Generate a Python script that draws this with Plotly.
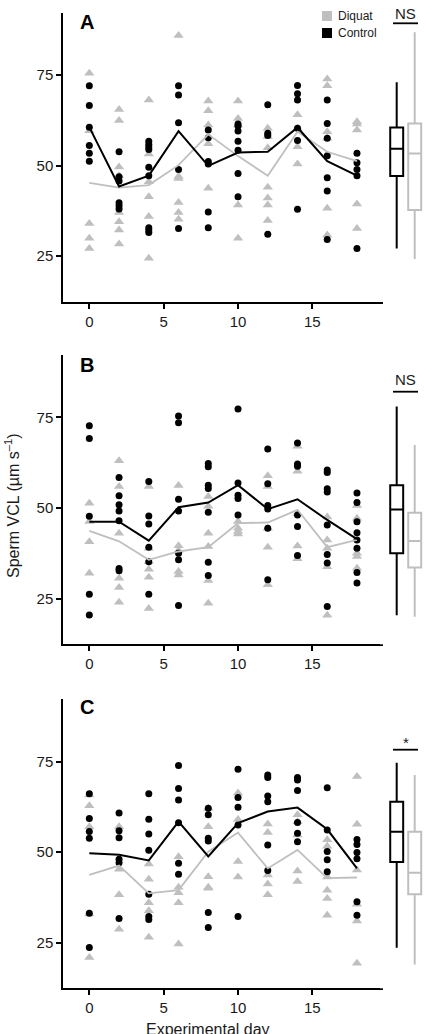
import plotly.graph_objects as go

W, H = 436, 1034
days = [0, 2, 4, 6, 8, 10, 12, 14, 16, 18]

# ---- Panel A ----
A_control = [[72.0, 66.6, 60.6, 55.5, 53.4, 51.2],
             [53.8, 46.9, 45.7, 39.7, 38.9, 38.0],
             [56.7, 55.8, 55.1, 54.4, 49.5, 47.2, 32.8, 32.2, 31.5],
             [72.0, 69.5, 61.8, 48.9, 32.6],
             [59.8, 57.7, 51.1, 50.4, 37.2, 32.8],
             [61.5, 60.9, 59.5, 56.7, 54.2, 47.8, 41.4],
             [66.8, 58.9, 58.3, 31.0],
             [72.1, 69.8, 68.1, 60.3, 56.9, 37.9],
             [68.1, 61.6, 57.5, 52.7, 46.6, 43.0, 29.6],
             [53.4, 50.8, 48.9, 47.2, 27.1]]
A_diquat = [[75.5, 59.6, 34.0, 29.9, 27.1],
            [65.5, 62.4, 49.6, 47.2, 37.0, 34.5, 32.2, 28.3],
            [68.1, 53.2, 45.5, 41.4, 35.9, 24.4],
            [85.9, 47.0, 46.4, 39.8, 37.0, 35.2],
            [67.8, 65.1, 61.2, 56.0, 43.7],
            [67.8, 63.0, 61.2, 39.1, 29.9],
            [60.3, 58.0, 54.9, 44.0, 41.0, 39.1, 34.8],
            [64.0, 60.3, 55.2, 50.4],
            [73.9, 72.0, 59.3, 57.5, 38.2, 30.8],
            [62.1, 61.5, 59.8, 39.4, 32.6]]
A_control_mean = [60.6, 44.2, 47.2, 59.5, 49.9, 53.6, 53.8, 60.5, 51.2, 47.2]
A_diquat_mean = [45.2, 43.9, 44.6, 50.1, 58.6, 52.6, 47.2, 59.3, 53.8, 51.2]
# box stats: lower whisker, q1, median, q3, upper whisker
A_box_control = [27.1, 47.1, 54.6, 60.5, 73.0]
A_box_diquat = [24.2, 37.7, 53.3, 61.6, 86.8]

# ---- Panel B ----
B_control = [[72.7, 69.2, 47.7, 26.2, 20.5],
             [58.4, 53.4, 50.9, 49.2, 46.5, 33.3, 32.7],
             [57.3, 47.8, 45.6, 39.2, 35.2, 26.2],
             [75.4, 73.5, 52.4, 49.2, 37.5, 35.7, 23.1],
             [62.3, 61.4, 56.3, 55.4, 48.8, 35.0, 31.4],
             [77.3, 56.9, 53.5, 52.6, 48.1],
             [66.3, 56.7, 50.7, 49.7, 44.4, 30.2],
             [67.9, 62.1, 61.5, 48.1, 44.9, 36.9],
             [60.5, 59.8, 55.3, 54.4, 45.3, 37.2, 34.8, 22.8],
             [54.1, 51.5, 46.2, 43.2, 41.2, 38.9, 32.2, 29.3]]
B_diquat = [[51.3, 46.3, 40.7, 32.0],
            [63.0, 55.9, 43.0, 30.6, 28.1, 24.0],
            [55.9, 38.9, 35.2, 33.1, 30.9, 22.3],
            [56.2, 39.6, 38.3, 32.5, 31.5],
            [53.2, 50.5, 43.0, 39.4, 30.0, 23.7],
            [46.3, 44.4, 43.5, 42.8],
            [58.9, 55.9, 44.4, 39.2, 28.8],
            [67.0, 60.1, 48.4, 39.5, 36.0],
            [47.5, 41.2, 38.9, 33.8, 20.4],
            [50.7, 47.2, 37.5, 36.6, 33.4]]
B_control_mean = [46.2, 46.2, 41.0, 50.2, 51.5, 56.3, 49.7, 52.4, 46.7, 41.4]
B_diquat_mean = [43.7, 40.8, 35.7, 38.0, 39.2, 45.8, 46.0, 49.5, 39.2, 41.2]
B_box_control = [20.4, 37.5, 49.6, 56.3, 78.0]
B_box_diquat = [20.0, 33.6, 40.9, 48.7, 67.4]

# ---- Panel C ----
C_control = [[66.1, 59.3, 55.7, 53.8, 33.1, 23.7],
             [60.8, 55.9, 54.0, 48.0, 47.1, 31.7],
             [66.1, 59.1, 55.0, 50.5, 38.4, 32.2, 31.4],
             [73.9, 67.6, 64.4, 58.1, 46.9, 43.9],
             [62.1, 60.3, 53.8, 53.1, 33.3, 29.2],
             [72.9, 65.1, 62.4, 57.5, 32.2],
             [71.3, 70.6, 65.5, 63.9, 52.0, 44.9],
             [70.6, 69.9, 67.0, 58.2, 55.2, 52.9],
             [67.8, 56.1, 50.2, 47.9, 44.6],
             [53.5, 52.1, 49.9, 48.2, 36.3, 32.6]]
C_diquat = [[65.8, 62.8, 57.0, 32.9, 20.9],
            [57.0, 45.3, 38.2, 28.7],
            [46.7, 42.5, 36.0, 33.8, 26.5],
            [48.7, 40.3, 38.8, 36.0, 24.6],
            [62.1, 57.0, 43.2, 40.3, 40.0],
            [66.3, 59.0, 47.4, 43.1],
            [57.8, 55.4, 43.7, 41.2, 38.2],
            [60.3, 58.4, 54.7, 44.8, 41.9],
            [53.4, 51.6, 43.1, 39.5, 37.2, 32.6],
            [70.9, 57.7, 45.1, 35.6, 31.0, 19.3]]
C_control_mean = [49.7, 49.3, 47.7, 58.4, 48.8, 58.0, 61.2, 62.3, 56.3, 45.5]
C_diquat_mean = [43.7, 46.3, 38.6, 39.5, 50.1, 55.4, 45.5, 50.6, 42.8, 43.0]
C_box_control = [23.6, 47.3, 55.6, 63.9, 74.7]
C_box_diquat = [19.0, 38.4, 44.3, 55.6, 71.3]

panel_letters = ["A", "B", "C"]
sig_labels = ["NS", "NS", "*"]
groups = ["Control", "Diquat"]
x_ticks = [0, 5, 10, 15]
y_ticks = [25, 50, 75]

BLACK = "#000000"
GREY = "#bfbfbf"
TXT = "#1a1a1a"
FONT = "Liberation Sans, Arial, sans-serif"

# pixel layout (top, bottom of each plot area)
panel_px = [(12.7, 301.7), (355.0, 644.3), (699.3, 988.3)]
x_left_px, x_right_px = 63.3, 383.3
box_dom_px = (380.0, 436.0)
sig_text_px = [14.0, 379.3, 742.5]
sig_line_px = [23.3, 391.7, 749.7]
letter_px = [21.5, 365.5, 706.5]


def py(p):
    return 1 - p / H


def px(p):
    return p / W


fig = go.Figure()
panels = [
    (A_control, A_diquat, A_control_mean, A_diquat_mean, A_box_control, A_box_diquat),
    (B_control, B_diquat, B_control_mean, B_diquat_mean, B_box_control, B_box_diquat),
    (C_control, C_diquat, C_control_mean, C_diquat_mean, C_box_control, C_box_diquat),
]

shapes = []
annotations = []
for i, (ctl, diq, ctl_m, diq_m, bc, bd) in enumerate(panels):
    xa = "x" if i == 0 else f"x{i + 1}"
    ya = "y" if i == 0 else f"y{i + 1}"
    xb = f"x{i + 4}"

    dx, dy = [], []
    for d, vals in zip(days, diq):
        dx += [d] * len(vals)
        dy += vals
    cx, cy = [], []
    for d, vals in zip(days, ctl):
        cx += [d] * len(vals)
        cy += vals

    fig.add_trace(go.Scatter(x=dx, y=dy, mode="markers", xaxis=xa, yaxis=ya,
                             marker=dict(symbol="triangle-up", size=9, color=GREY),
                             showlegend=False))
    fig.add_trace(go.Scatter(x=cx, y=cy, mode="markers", xaxis=xa, yaxis=ya,
                             marker=dict(symbol="circle", size=7, color=BLACK),
                             showlegend=False))
    fig.add_trace(go.Scatter(x=days, y=diq_m, mode="lines", xaxis=xa, yaxis=ya,
                             line=dict(color=GREY, width=1.8), showlegend=False))
    fig.add_trace(go.Scatter(x=days, y=ctl_m, mode="lines", xaxis=xa, yaxis=ya,
                             line=dict(color=BLACK, width=2), showlegend=False))

    for g, st, col in [(groups[0], bc, BLACK), (groups[1], bd, GREY)]:
        fig.add_trace(go.Box(x=[g], lowerfence=[st[0]], q1=[st[1]], median=[st[2]],
                             q3=[st[3]], upperfence=[st[4]], xaxis=xb, yaxis=ya,
                             fillcolor="white", line=dict(color=col, width=2),
                             whiskerwidth=0, width=0.72, boxpoints=False,
                             showlegend=False))

    top, bot = panel_px[i]
    ydom = [py(bot), py(top)]
    axis_common = dict(showgrid=False, zeroline=False, showline=True, linecolor=BLACK,
                       linewidth=2, ticks="outside", ticklen=5, tickwidth=1.5,
                       tickcolor=BLACK, tickfont=dict(size=15, color=TXT, family=FONT),
                       automargin=False)
    fig.update_layout(**{
        ("xaxis" if i == 0 else f"xaxis{i + 1}"): dict(
            domain=[px(x_left_px), px(x_right_px)], range=[-1.75, 19.77],
            tickvals=x_ticks, anchor=ya, **axis_common),
        ("yaxis" if i == 0 else f"yaxis{i + 1}"): dict(
            domain=ydom, range=[12.4, 92.2], tickvals=y_ticks, anchor=xa,
            **axis_common),
        f"xaxis{i + 4}": dict(domain=[px(box_dom_px[0]), px(box_dom_px[1])],
                              range=[-0.928, 2.183], anchor=ya, visible=False,
                              type="category", categoryorder="array",
                              categoryarray=groups),
    })

    annotations.append(dict(text=f"<b>{panel_letters[i]}</b>", xref="paper", yref="paper",
                            x=px(87), y=py(letter_px[i]), xanchor="center",
                            yanchor="middle", showarrow=False,
                            font=dict(size=20, color=BLACK, family=FONT)))
    annotations.append(dict(text=sig_labels[i], xref="paper", yref="paper",
                            x=px(405.5), y=py(sig_text_px[i]), xanchor="center",
                            yanchor="middle", showarrow=False,
                            font=dict(size=15, color=TXT, family=FONT)))
    shapes.append(dict(type="line", xref="paper", yref="paper",
                       x0=px(393), x1=px(418), y0=py(sig_line_px[i]), y1=py(sig_line_px[i]),
                       line=dict(color=BLACK, width=1.8)))

# legend (panel A)
for lbl, col, yc in [("Diquat", GREY, 16.0), ("Control", BLACK, 33.0)]:
    shapes.append(dict(type="rect", xref="paper", yref="paper",
                       x0=px(322), x1=px(332), y0=py(yc + 5), y1=py(yc - 5),
                       fillcolor=col, line=dict(width=0)))
    annotations.append(dict(text=lbl, xref="paper", yref="paper", x=px(335.5), y=py(yc),
                            xanchor="left", yanchor="middle", showarrow=False,
                            font=dict(size=12, color=TXT, family=FONT)))

annotations.append(dict(text="Sperm VCL (\u00b5m s<sup>\u20131</sup>)", xref="paper",
                        yref="paper", x=px(12), y=py(506), textangle=-90,
                        xanchor="center", yanchor="middle",
                        showarrow=False, font=dict(size=16, color=TXT, family=FONT)))
annotations.append(dict(text="Experimental day", xref="paper", yref="paper",
                        x=px(208), y=py(1029), xanchor="center", yanchor="middle",
                        showarrow=False,
                        font=dict(size=16, color=TXT, family=FONT)))

fig.update_layout(width=W, height=H, margin=dict(l=0, r=0, t=0, b=0),
                  paper_bgcolor="white", plot_bgcolor="white", template="none",
                  shapes=shapes, annotations=annotations, showlegend=False,
                  font=dict(family=FONT))

fig.write_html("out.html")
